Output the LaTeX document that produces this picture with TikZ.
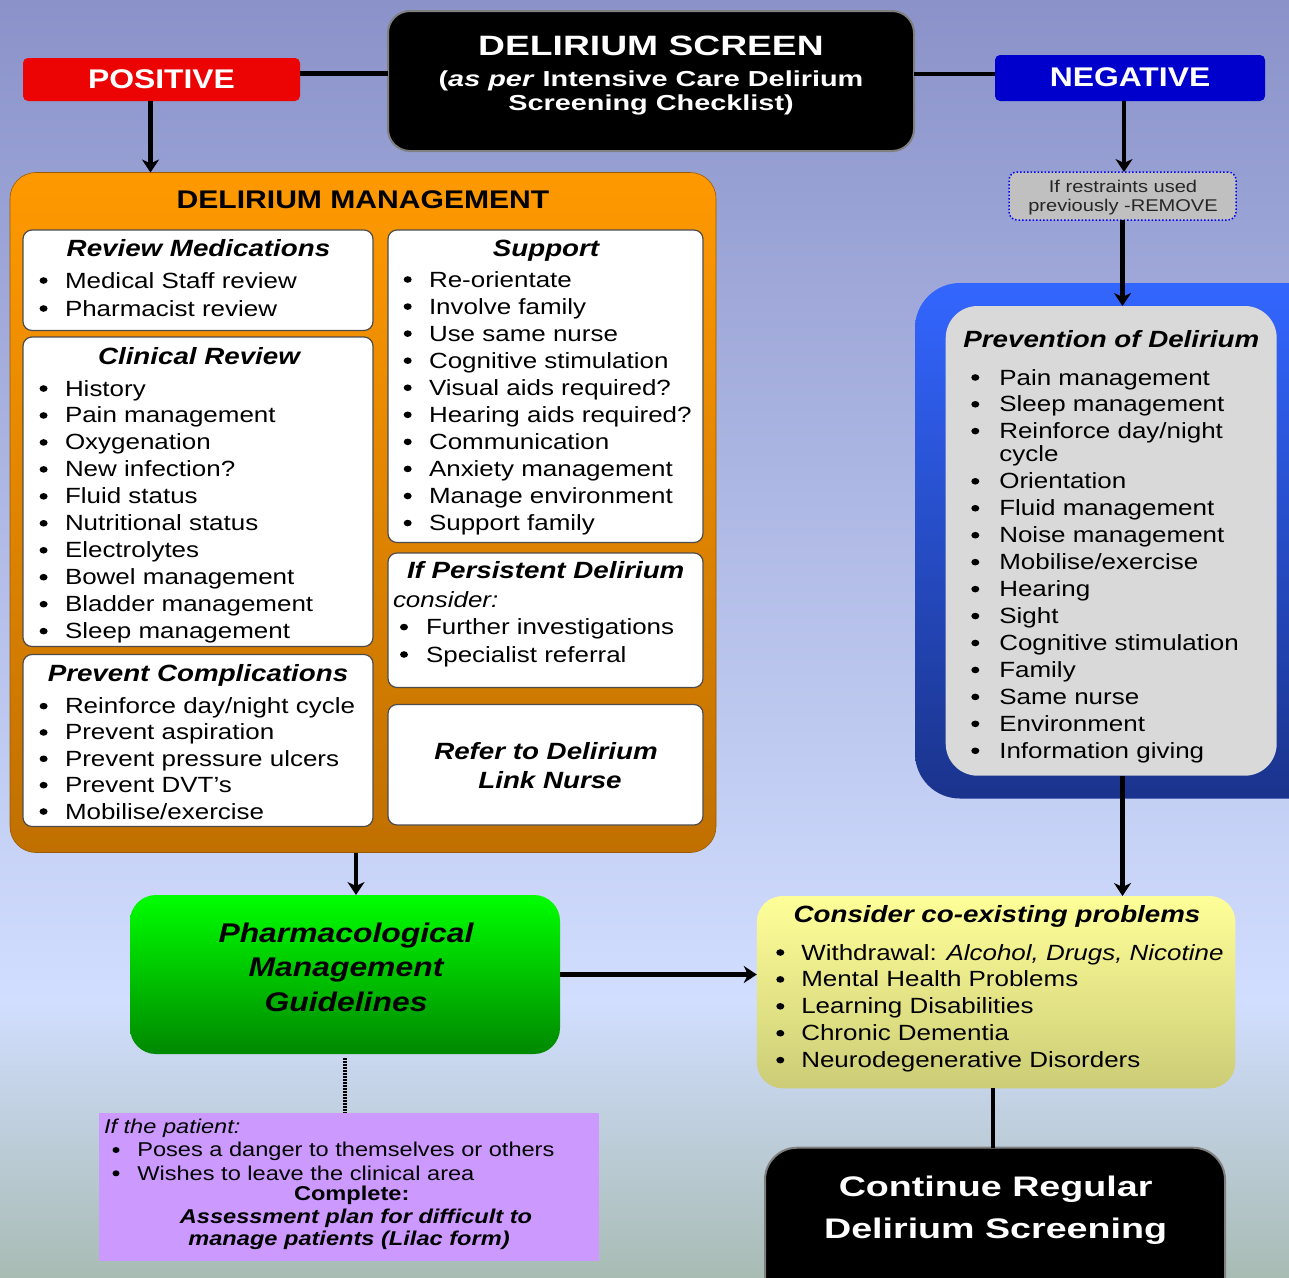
\documentclass[tikz,border=0pt]{standalone}
\usepackage{fontspec}
\setmainfont{Liberation Sans}[FakeStretch=1.18]
\newfontfamily\widefont{Liberation Sans}[FakeStretch=1.33]
\usetikzlibrary{arrows.meta,calc,shapes.geometric}
\newcommand\fs[1]{\fontsize{#1}{#1}\selectfont}
\definecolor{bgA}{RGB}{138,146,201}
\definecolor{bgB}{RGB}{210,222,255}
\definecolor{bgC}{RGB}{168,188,180}
\definecolor{posred}{RGB}{236,4,4}
\definecolor{negblue}{RGB}{0,0,204}
\definecolor{orgA}{RGB}{255,153,0}
\definecolor{orgB}{RGB}{192,112,0}
\definecolor{bluA}{RGB}{51,102,255}
\definecolor{bluB}{RGB}{26,51,140}
\definecolor{greyin}{RGB}{217,217,217}
\definecolor{restr}{RGB}{192,192,192}
\definecolor{grnA}{RGB}{0,255,0}
\definecolor{grnB}{RGB}{0,136,0}
\definecolor{ylwA}{RGB}{255,255,153}
\definecolor{ylwB}{RGB}{204,204,119}
\definecolor{lilac}{RGB}{204,153,255}
\newcommand\blist[6]{%
  \foreach \t [count=\i from 0] in {#6}{%
    \node[dot] (#1b\i) at (#2,{#4+\i*#5-7.5}) {};
    \node[txt] (#1t\i) at (#3,{#4+\i*#5}) {\t};
  }}
\begin{document}
\begin{tikzpicture}[x=1pt,y=-1pt,
  box/.style={draw=black!70, line width=1.2pt, fill=white, rounded corners=9pt, anchor=north west, inner sep=0pt, outer sep=0pt},
  plain/.style={anchor=north west, inner sep=0pt, outer sep=0pt},
  txt/.style={inner sep=0pt, outer sep=0pt, anchor=base west, font=\fs{22}},
  dot/.style={ellipse, fill=black, inner sep=0pt, minimum width=8pt, minimum height=6.6pt},
  ttl/.style={inner sep=0pt, outer sep=0pt, anchor=base, font=\fs{23.5}\bfseries\itshape},
  wtxt/.style={inner sep=0pt, outer sep=0pt, anchor=base, text=white},
  conn/.style={line width=4.6pt, draw=black},
  arr/.style={conn, -{Stealth[length=13pt,width=17pt,inset=4pt]}}
]
\useasboundingbox (0,0) rectangle (1289,1277);
\clip (0,0) rectangle (1289,1277);
% background
\shade[top color=bgA, bottom color=bgB] (0,0) rectangle (1289,1001);
\shade[top color=bgB, bottom color=bgC] (0,1000) rectangle (1289,1277);

% ---- top row
\node[plain, fill=black, draw=black!50, line width=2pt, rounded corners=22pt, minimum width=526pt, minimum height=140pt] (screen) at (388,11) {};
\node[wtxt, font=\widefont\fs{28}\bfseries] (st1) at (651,55) {DELIRIUM SCREEN};
\node[wtxt, font=\widefont\fs{21.7}\bfseries] (st2) at (651,86) {(\textit{as per} Intensive Care Delirium};
\node[wtxt, font=\widefont\fs{21.7}\bfseries] (st3) at (651,110) {Screening Checklist)};

\node[plain, fill=posred, rounded corners=5pt, minimum width=277pt, minimum height=43pt] (pos) at (23,58) {};
\node[wtxt, font=\fs{27}\bfseries] (post) at (161.5,88.3) {POSITIVE};
\node[plain, fill=negblue, rounded corners=5pt, minimum width=270pt, minimum height=46pt] (neg) at (995,55) {};
\node[wtxt, font=\fs{27}\bfseries] (negt) at (1130,86) {NEGATIVE};

\node[plain, fill=restr, draw=blue, dotted, line width=1.5pt, rounded corners=8pt, minimum width=227pt, minimum height=48pt] (restr) at (1009,172) {};
\node[inner sep=0pt, anchor=base, font=\fs{17}, text=black!85] (rt1) at (1123,192.3) {If restraints used};
\node[inner sep=0pt, anchor=base, font=\fs{17}, text=black!85] (rt2) at (1123,211.8) {previously -REMOVE};

% ---- delirium management
\node[plain, top color=orgA, bottom color=orgB, draw=orgB!80!black, line width=0.6pt, rounded corners=26pt, minimum width=706pt, minimum height=680pt] (mgmt) at (10,172.5) {};
\node[inner sep=0pt, anchor=base, font=\fs{25.5}\bfseries] (mgmtt) at (363,208) {DELIRIUM MANAGEMENT};

\node[box, minimum width=350pt, minimum height=100.5pt] (rm) at (23,230) {};
\node[ttl] (rmt) at (198.5,256) {Review Medications};
\blist{rm}{43.6}{65}{288}{28}{Medical Staff review, Pharmacist review}

\node[box, minimum width=350pt, minimum height=309.5pt] (cr) at (23,337) {};
\node[ttl] (crt) at (199,364) {Clinical Review};
\blist{cr}{43.6}{65}{396}{26.96}{History, Pain management, Oxygenation, New infection?, Fluid status, Nutritional status, Electrolytes, Bowel management, Bladder management, Sleep management}

\node[box, minimum width=350pt, minimum height=172pt] (pc) at (23,654.5) {};
\node[ttl] (pct) at (198,681) {Prevent Complications};
\blist{pc}{43.6}{65}{713.6}{26.35}{Reinforce day/night cycle, Prevent aspiration, Prevent pressure ulcers, Prevent DVT’s, Mobilise/exercise}

\node[box, minimum width=315pt, minimum height=312.5pt] (sp) at (388,230) {};
\node[ttl] (spt) at (546,256) {Support};
\blist{sp}{407.7}{429}{287}{27.06}{Re-orientate, Involve family, Use same nurse, Cognitive stimulation, Visual aids required?, Hearing aids required?, Communication, Anxiety management, Manage environment, Support family}

\node[box, minimum width=315pt, minimum height=134.5pt] (pd) at (388,553) {};
\node[ttl] (pdt) at (545.7,578) {If Persistent Delirium};
\node[txt, font=\fs{22}\itshape] (pdc) at (393,607) {consider:};
\blist{pd}{404}{426}{634.6}{27.4}{Further investigations, Specialist referral}

\node[box, minimum width=315pt, minimum height=120.5pt] (rf) at (388,704.5) {};
\node[ttl] (rft1) at (546,759.6) {Refer to Delirium};
\node[ttl] (rft2) at (550,788.6) {Link Nurse};

% ---- prevention
\node[plain, top color=bluA, bottom color=bluB, rounded corners=45pt, minimum width=420pt, minimum height=515.5pt] (blue) at (915,283) {};
\node[plain, fill=greyin, rounded corners=32pt, minimum width=331pt, minimum height=469.7pt] (prev) at (945.7,306) {};
\node[ttl] (prevt) at (1111.3,347.4) {Prevention of Delirium};
\blist{pa}{975.3}{999.3}{385}{26.8}{Pain management, Sleep management, Reinforce day/night}
\node[txt] (pcyc) at (999.3,461.8) {cycle};
\blist{pb}{975.3}{999.3}{488.8}{26.95}{Orientation, Fluid management, Noise management, Mobilise/exercise, Hearing, Sight, Cognitive stimulation, Family, Same nurse, Environment, Information giving}

% ---- pharmacological
\node[plain, top color=grnA, bottom color=grnB, rounded corners=26pt, minimum width=430pt, minimum height=159pt] (green) at (130,895) {};
\node[ttl, font=\fs{27}\bfseries\itshape] (gt1) at (346,942.7) {Pharmacological};
\node[ttl, font=\fs{27}\bfseries\itshape] (gt2) at (346,976.7) {Management};
\node[ttl, font=\fs{27}\bfseries\itshape] (gt3) at (346,1011.7) {Guidelines};

% ---- lilac
\node[plain, fill=lilac, minimum width=500pt, minimum height=147.7pt] (lilac) at (99,1113.3) {};
\node[txt, font=\fs{20}\itshape] (lt0) at (104,1133.3) {If the patient:};
\node[dot, minimum width=7pt, minimum height=6pt] (lb1) at (116,1150) {};
\node[txt, font=\fs{20}] (lt1) at (137.3,1156.7) {Poses a danger to themselves or others};
\node[dot, minimum width=7pt, minimum height=6pt] (lb2) at (116,1173.3) {};
\node[txt, font=\fs{20}] (lt2) at (137.3,1180) {Wishes to leave the clinical area};
\node[ttl, font=\fs{20}\bfseries] (lt3) at (351.7,1200.7) {Complete:};
\node[ttl, font=\fs{20}\bfseries\itshape] (lt4) at (356,1223.3) {Assessment plan for difficult to};
\node[ttl, font=\fs{20}\bfseries\itshape] (lt5) at (349,1245) {manage patients (Lilac form)};

% ---- yellow
\node[plain, top color=ylwA, bottom color=ylwB, rounded corners=26pt, minimum width=478.6pt, minimum height=192.3pt] (yellow) at (756.8,896) {};
\node[ttl] (yt) at (997,922.7) {Consider co-existing problems};
\blist{y}{780.3}{801.3}{960}{26.9}{{Withdrawal: \textit{Alcohol, Drugs, Nicotine}}, Mental Health Problems, Learning Disabilities, Chronic Dementia, Neurodegenerative Disorders}

% ---- continue
\node[plain, fill=black, draw=black!50, line width=2pt, rounded corners=32pt, minimum width=460pt, minimum height=170pt] (cont) at (765,1147.7) {};
\node[wtxt, font=\widefont\fs{28.3}\bfseries] (ct1) at (995.6,1196.7) {Continue Regular};
\node[wtxt, font=\widefont\fs{28.3}\bfseries] (ct2) at (995.6,1238.3) {Delirium Screening};

% ---- connectors
\draw[conn] ([yshift=6pt]pos.east) -- ([yshift=6pt]pos.east -| screen.west);
\draw[conn] ([yshift=4pt]neg.west) -- ([yshift=4pt]neg.west -| screen.east);
\draw[arr] ([xshift=-11pt]pos.south) -- ([xshift=-11pt]pos.south |- mgmt.north);
\draw[arr] ([xshift=-6pt]neg.south) -- ([xshift=-6pt]neg.south |- restr.north);
\draw[arr] (restr.south) -- (restr.south |- prev.north);
\draw[arr] (restr.south |- prev.south) -- (restr.south |- yellow.north);
\draw[arr] ([xshift=-7pt]mgmt.south) -- ([xshift=-7pt]mgmt.south |- green.north);
\draw[arr] (green.east) -- (green.east -| yellow.west);
\draw[conn, line width=3.5pt, dash pattern=on 1.5pt off 1.5pt] ([yshift=-4pt]green.south) -- (green.south |- lilac.north);
\draw[conn] ([xshift=-3pt]yellow.south) -- ([xshift=-3pt]yellow.south |- cont.north);
\end{tikzpicture}
\end{document}
